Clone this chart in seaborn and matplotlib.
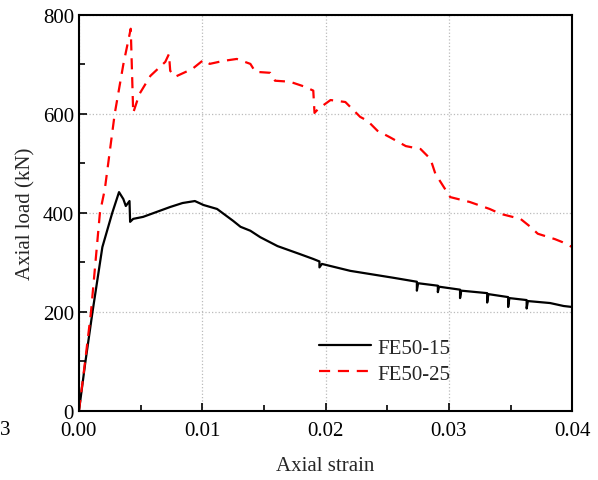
import numpy as np
import pandas as pd
import seaborn as sns
import matplotlib.pyplot as plt
from matplotlib.ticker import MultipleLocator

# Seaborn
sns.set_theme(style="ticks")
plt.rcParams['font.family'] = ['Liberation Serif', 'DejaVu Serif']

# ---------------------------------
# Data
# ---------------------------------
fe15_strain = [0.0, 0.0005, 0.0011, 0.0019, 0.0027, 0.00325, 0.0036, 0.0038,
               0.0041, 0.00415, 0.0044, 0.0052, 0.0063, 0.0074, 0.0084, 0.0094,
               0.0101, 0.0112, 0.0125, 0.0131, 0.0139, 0.0147, 0.0161, 0.0179,
               0.0190, 0.0195, 0.0195, 0.0197, 0.0220, 0.0255, 0.0274, 0.0274,
               0.0275, 0.0291, 0.0291, 0.0292, 0.0309, 0.0309, 0.0310, 0.0331,
               0.0331, 0.0332, 0.0348, 0.0348, 0.0349, 0.0363, 0.0363, 0.0364,
               0.0382, 0.0393, 0.0400]
fe15_load = [0, 95, 200, 331, 400, 442, 428, 414,
             424, 382, 388, 392, 402, 412, 420, 424,
             416, 408, 384, 372, 364, 351, 333, 317,
             307, 302, 290, 297, 283, 269, 261, 243,
             258, 253, 240, 251, 245, 228, 243, 238,
             219, 236, 230, 210, 228, 224, 207, 222,
             218, 212, 210]

fe25_strain = [0.0, 0.0005, 0.00097, 0.0017, 0.0021, 0.0029, 0.0036, 0.0042,
               0.0044, 0.0049, 0.0058, 0.0070, 0.0073, 0.0074, 0.0078, 0.0092,
               0.0101, 0.0106, 0.0117, 0.0128, 0.0139, 0.0143, 0.0155, 0.0159,
               0.0171, 0.0183, 0.0190, 0.0191, 0.0194, 0.0204, 0.0216, 0.0228,
               0.0234, 0.0242, 0.0252, 0.0265, 0.0277, 0.0285, 0.0289, 0.0301,
               0.0317, 0.0333, 0.0342, 0.0358, 0.0366, 0.0372, 0.0386, 0.0392,
               0.0400]
fe25_load = [0, 100, 198, 400, 448, 600, 700, 772,
             602, 640, 677, 705, 721, 687, 675, 691,
             709, 701, 707, 711, 701, 685, 683, 667,
             665, 655, 647, 602, 610, 628, 624, 594,
             586, 566, 553, 535, 529, 509, 479, 432,
             422, 408, 398, 388, 372, 358, 347, 341,
             331]

# ---------------------------------
# Plot
# ---------------------------------
fig = plt.figure(figsize=(5.98, 4.81), dpi=100)
ax = fig.add_axes([0.132, 0.1435, 0.825, 0.8235])

d15 = pd.DataFrame({'strain': fe15_strain, 'load': fe15_load})
d25 = pd.DataFrame({'strain': fe25_strain, 'load': fe25_load})

sns.lineplot(data=d15, x='strain', y='load', ax=ax, sort=False,
             estimator=None, color='black', lw=1.6, label='FE50-15')
sns.lineplot(data=d25, x='strain', y='load', ax=ax, sort=False,
             estimator=None, color='red', lw=1.6, dashes=False,
             label='FE50-25')
ax.lines[1].set_dashes((5, 3.5))

# Configure axes
ax.set_xlim(0, 0.04)
ax.set_ylim(0, 800)
ax.xaxis.set_major_locator(MultipleLocator(0.01))
ax.xaxis.set_minor_locator(MultipleLocator(0.005))
ax.yaxis.set_major_locator(MultipleLocator(200))
ax.yaxis.set_minor_locator(MultipleLocator(100))
ax.xaxis.set_major_formatter(plt.FormatStrFormatter('%.2f'))
ax.tick_params(which='both', direction='in', top=False, right=False,
               labelsize=15, width=1.2, colors='black')
ax.tick_params(which='major', length=6)
ax.tick_params(which='minor', length=4)
ax.tick_params(axis='x', which='major', pad=7)
ax.grid(True, which='major', linestyle=':', color='#bbbbbb', lw=0.9)
for s in ax.spines.values():
    s.set_linewidth(1.5)
    s.set_color('black')

ax.set_xlabel('Axial strain', fontsize=15, labelpad=12)
ax.set_ylabel('Axial load (kN)', fontsize=15, labelpad=5)

# Legend
leg = ax.legend(loc='upper left', bbox_to_anchor=(0.47, 0.205),
                frameon=False, fontsize=15, handlelength=2.5,
                handletextpad=0.3, borderaxespad=0, labelspacing=0.3)

# Stray label at the left edge of the x axis
fig.text(0.0, 0.104, '3', fontsize=15, color='black', va='center')

fig.savefig('out.png', dpi=100)
